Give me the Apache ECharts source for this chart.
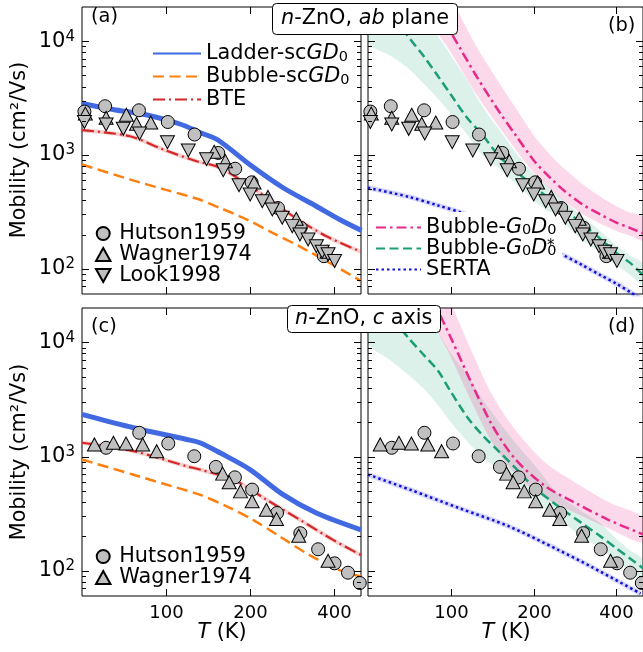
<!DOCTYPE html>
<html>
<head>
<meta charset="UTF-8">
<title>n-ZnO mobility</title>
<script src="https://cdn.jsdelivr.net/npm/echarts@6/dist/echarts.min.js"></script>
<style>
  html, body { margin: 0; padding: 0; background: #fff; }
  #chart { width: 643px; height: 652px; }
</style>
</head>
<body>
<div id="chart"></div>
<script>
// axis ranges and ticks
const xMin = 50, xMax = 500, yMin = 60, yMax = 20000;
const xTicks = [100, 200, 400];
const yMajor = [100, 1000, 10000];
const yMinor = [70, 80, 90, 200, 300, 400, 500, 600, 700, 800, 900,
                2000, 3000, 4000, 5000, 6000, 7000, 8000, 9000];

// experiment, ab plane
const hutsonAbT  = [51, 60.5, 80, 101.5, 126.6, 153.9, 177, 202.7, 252, 304, 368];
const hutsonAbMu = [2410, 2685, 2472, 1950, 1514, 1043, 757, 575, 342, 229, 129];
const wagnerAbT  = [51.4, 61, 72.1, 78.4, 88.2, 148.8, 163.3, 206.8, 232, 293, 378];
const wagnerAbMu = [2312, 2122, 2260, 1884, 1930, 1069, 883, 573, 428, 275, 141];
const lookAbT  = [51, 61, 70.3, 80.4, 101.2, 120.2, 139.8, 160.4, 182.7, 200.3, 221.4, 240.5, 261, 283.5, 302, 323, 346, 363, 381, 402];
const lookAbMu = [1950, 1854, 1699, 1545, 1294, 1096, 918, 734, 542, 450, 393, 332, 281, 237, 200, 181, 158, 141, 134, 117];

// experiment, c axis
const hutsonCT  = [61, 80.2, 101.9, 126.3, 150.9, 176.6, 203.6, 250, 303, 351, 402, 449, 495];
const hutsonCMu = [1193, 1614, 1300, 1006, 811, 657, 513, 320, 213, 154, 116, 96, 78];
const wagnerCT  = [55.4, 64.8, 71.9, 82.5, 92.6, 159.6, 168.5, 185, 203.6, 229, 249, 299, 381];
const wagnerCMu = [1276, 1318, 1300, 1276, 1114, 708, 594, 495, 405, 342, 283, 202, 122];

// theory, ab plane (a)
const ladderAbT  = [50, 64.6, 85.5, 112.2, 132.3, 153.5, 200, 262, 347, 419, 502];
const ladderAbMu = [2835, 2512, 2246, 1873, 1577, 1355, 820, 518, 353, 271, 217];
const bubScAbT  = [50, 75, 100, 130, 155, 195, 240, 300, 400, 500];
const bubScAbMu = [826, 605, 494, 410, 345, 271, 208, 158, 107, 78];
const bteAbT  = [50, 74.3, 97.8, 128.8, 156, 217, 285, 376, 500];
const bteAbMu = [1652, 1462, 1117, 882, 772, 466, 290, 193, 141];

// theory, c axis (c)
const ladderCT  = [50, 76.4, 118.6, 132.3, 156, 200, 263, 346, 500];
const ladderCMu = [2341, 1788, 1411, 1320, 1078, 769, 463, 320, 228];
const bubScCT  = [50, 76, 100, 132, 165, 205, 256, 327, 419, 500];
const bubScCMu = [941, 695, 569, 463, 366, 279, 199, 137, 101, 88.5];
const bteCT  = [50, 76.4, 118.6, 132.3, 174, 229, 302, 397, 500];
const bteCMu = [1320, 1114, 822, 769, 628, 419, 279, 186, 137];

// theory, ab plane (b)
const g0d0AbT  = [85, 100, 124, 150, 172, 200, 230, 260, 300, 350, 400, 450, 500];
const g0d0AbMu = [23000, 12000, 4925, 2400, 1500, 900, 630, 480, 370, 300, 255, 228, 205];
const g0d0AbLo = [15500, 8000, 3400, 1750, 1120, 700, 500, 390, 305, 250, 215, 195, 178];
const g0d0AbHi = [46000, 24000, 9000, 4300, 2600, 1500, 1000, 750, 560, 430, 355, 310, 285];
const starT = [50, 60, 70, 80, 90, 100, 115, 130, 150, 175, 200, 250, 300, 350, 400, 450, 500];
const starAbMu = [30000, 18500, 11000, 7300, 4900, 3400, 2100, 1514, 975, 700, 530, 350, 250, 183, 138, 112, 88];
const starAbLo = [9800, 7500, 5800, 4200, 3100, 2300, 1500, 1000, 760, 540, 400, 265, 180, 138, 108, 88, 72];
const starAbHi = [40000, 32000, 23000, 15500, 11000, 7500, 4500, 2700, 1675, 1000, 687, 425, 290, 215, 160, 130, 110];
const sertaAbT  = [50, 70, 90, 110, 150, 200, 253, 300, 350, 400, 453, 500];
const sertaAbMu = [515, 430, 360, 310, 232, 175, 134, 108, 88, 74, 61.5, 53];

// theory, c axis (d)
const g0d0CT  = [85, 100, 120, 142, 172, 221, 284, 374, 500];
const g0d0CMu = [25000, 11000, 4200, 1849, 942, 548, 392, 279, 208];
const g0d0CLo = [17000, 7500, 2900, 1300, 700, 430, 320, 235, 178];
const g0d0CHi = [50000, 22000, 8000, 3400, 1700, 880, 590, 400, 290];
const starCMu = [30000, 17500, 11000, 7700, 5600, 3700, 2200, 1550, 1100, 760, 540, 356, 260, 200, 157, 127, 105];
const starCLo = [10000, 7000, 5200, 3900, 2800, 2000, 1350, 1000, 760, 570, 420, 275, 200, 155, 122, 98, 80];
const starCHi = [40000, 32000, 23000, 16500, 12000, 8000, 5200, 3200, 2000, 1250, 860, 450, 330, 260, 190, 150, 125];
const sertaCT  = [50, 71, 107, 163, 246, 325, 490];
const sertaCMu = [695, 513, 354, 244, 152, 108, 63];

const FONT = 'DejaVu Sans';
const markColor = '#c0c0c0';
const triUp = 'path://M5,0L10,9L0,9Z';
const triDown = 'path://M0,0L10,0L5,9Z';

function pair(T, mu) { return T.map((t, i) => [t, mu[i]]); }

function lineS(name, g, T, mu, color, width, dash, z) {
    return {
        name: name, type: 'line', xAxisIndex: g, yAxisIndex: g,
        data: pair(T, mu), symbol: 'none', showSymbol: false, smooth: 0.3,
        lineStyle: { color: color, width: width, type: dash || 'solid' },
        itemStyle: { color: color }, z: z || 3, silent: true
    };
}

function markS(name, g, T, mu, symbol, size) {
    return {
        name: name, type: 'scatter', xAxisIndex: g, yAxisIndex: g,
        data: pair(T, mu), symbol: symbol, symbolSize: size,
        itemStyle: { color: markColor, borderColor: '#000', borderWidth: 1, opacity: 1 },
        z: 5, silent: true
    };
}

// shaded band between lo and hi, mapped through the axes
function bandS(g, T, lo, hi, color) {
    return {
        type: 'custom', xAxisIndex: g, yAxisIndex: g, silent: true, clip: true, z: 1,
        data: [[T[0], lo[0]]],
        renderItem: function (params, api) {
            const pts = [];
            for (let i = 0; i < T.length; i++) pts.push(api.coord([T[i], hi[i]]));
            for (let i = T.length - 1; i >= 0; i--) pts.push(api.coord([T[i], lo[i]]));
            return { type: 'polygon', shape: { points: pts, smooth: 0.3 }, style: { fill: color } };
        }
    };
}

// ticks drawn inward on all four sides, plus bottom tick labels
function frameS(g, xLabels) {
    return {
        type: 'custom', xAxisIndex: g, yAxisIndex: g, silent: true, clip: false, z: 10,
        data: [[100, 1000]],
        renderItem: function (params, api) {
            const ch = [];
            const yb = api.coord([xMin, yMin])[1], yt = api.coord([xMin, yMax])[1];
            const xl = api.coord([xMin, yMin])[0], xr = api.coord([xMax, yMin])[0];
            const seg = (x1, y1, x2, y2) => ({
                type: 'line', shape: { x1: x1, y1: y1, x2: x2, y2: y2 },
                style: { stroke: '#000', lineWidth: 1 }
            });
            xTicks.forEach(t => {
                const x = Math.round(api.coord([t, yMin])[0]) + 0.5;
                ch.push(seg(x, yb, x, yb - 7), seg(x, yt, x, yt + 7));
                if (xLabels) {
                    ch.push({
                        type: 'text',
                        style: { text: String(t), x: x, y: yb + 17, align: 'center', verticalAlign: 'middle',
                                 font: '18px "' + FONT + '"', fill: '#000' }
                    });
                }
            });
            yMajor.forEach(v => {
                const y = Math.round(api.coord([xMin, v])[1]) + 0.5;
                ch.push(seg(xl, y, xl + 7, y), seg(xr, y, xr - 7, y));
            });
            yMinor.forEach(v => {
                const y = Math.round(api.coord([xMin, v])[1]) + 0.5;
                ch.push(seg(xl, y, xl + 4, y), seg(xr, y, xr - 4, y));
            });
            return { type: 'group', children: ch };
        }
    };
}

const FS = 20.8;
const legendNames = {
    'Ladder-scGD0': 'Ladder-sc{i|GD}{sub|0}',
    'Bubble-scGD0': 'Bubble-sc{i|GD}{sub|0}',
    'BTE': 'BTE',
    'Bubble-G0D0': 'Bubble-{i|G}{sub|0}{i|D}{sub|0}',
    'Bubble-G0D0*': 'Bubble-{i|G}{sub|0}{i|D}{sub|0}',
    'SERTA': 'SERTA',
    'Hutson1959': 'Hutson1959',
    'Wagner1974': 'Wagner1974',
    'Look1998': 'Look1998'
};
function legendBox(names, left, top, w, h, lh, gap, extra) {
    return Object.assign({
        data: names, orient: 'vertical', left: left, top: top,
        itemWidth: w, itemHeight: h, itemGap: gap, selectedMode: false, padding: 0,
        formatter: n => legendNames[n] || n,
        textStyle: {
            fontSize: FS, fontFamily: FONT, color: '#000', lineHeight: lh,
            rich: {
                i: { fontStyle: 'italic', fontSize: FS, fontFamily: FONT, color: '#000', lineHeight: lh },
                sub: { fontSize: 14.5, fontFamily: FONT, color: '#000', lineHeight: 6, verticalAlign: 'bottom' }
            }
        }
    }, extra || {});
}
const lineLegend = { itemStyle: { opacity: 0 } };

const grids = [
    { left: 82, top: 7, width: 279, height: 287 },
    { left: 368, top: 7, width: 277, height: 287 },
    { left: 82, top: 308, width: 279, height: 288 },
    { left: 368, top: 308, width: 277, height: 288 }
].map(g => Object.assign(g, { show: true, borderColor: '#000', borderWidth: 1, backgroundColor: 'transparent' }));

const xAxes = grids.map((g, i) => ({
    type: 'log', gridIndex: i, min: xMin, max: xMax, logBase: 10,
    axisLine: { show: false }, axisTick: { show: false }, axisLabel: { show: false }, splitLine: { show: false }
}));
const yAxes = grids.map((g, i) => ({
    type: 'log', gridIndex: i, min: yMin, max: yMax, logBase: 10,
    axisLine: { show: false }, axisTick: { show: false }, splitLine: { show: false },
    axisLabel: {
        show: i === 0 || i === 2, margin: 7,
        formatter: v => {
            const e = Math.round(Math.log10(v));
            if (Math.abs(Math.log10(v) - e) > 1e-6) return '';
            return '{b|10}{p|' + e + '}';
        },
        rich: {
            b: { fontSize: 21, fontFamily: FONT, color: '#000', lineHeight: 24 },
            p: { fontSize: 15, fontFamily: FONT, color: '#000', lineHeight: 12, verticalAlign: 'top' }
        }
    }
}));

const blue = '#4169e1', orange = '#ff7f0e', red = '#d62728';
const pink = '#e7298a', green = '#1b9e77', dblue = '#1111cc';
const dashOrange = [11, 5.5], dashDot = [12, 4, 2, 4];
const dashPink = [10, 4, 2.5, 4], dashGreen = [9, 4.5], dots = [2.5, 3];

const series = [
    // (a)
    lineS('', 0, bteAbT, bteAbMu, 'rgba(214,39,40,0.22)', 4, 'solid', 2),
    lineS('Bubble-scGD0', 0, bubScAbT, bubScAbMu, orange, 2.5, dashOrange),
    lineS('BTE', 0, bteAbT, bteAbMu, red, 2.2, dashDot),
    lineS('Ladder-scGD0', 0, ladderAbT, ladderAbMu, blue, 5),
    markS('Hutson1959', 0, hutsonAbT, hutsonAbMu, 'circle', 13),
    markS('Wagner1974', 0, wagnerAbT, wagnerAbMu, triUp, [14, 13]),
    markS('Look1998', 0, lookAbT, lookAbMu, triDown, [14, 13]),
    // (b)
    bandS(1, starT, starAbLo, starAbHi, 'rgba(27,158,119,0.15)'),
    bandS(1, g0d0AbT, g0d0AbLo, g0d0AbHi, 'rgba(231,41,138,0.18)'),
    lineS('', 1, sertaAbT, sertaAbMu, 'rgba(70,70,255,0.22)', 5, 'solid', 2),
    lineS('SERTA', 1, sertaAbT, sertaAbMu, dblue, 2.5, dots),
    lineS('Bubble-G0D0*', 1, starT, starAbMu, green, 2.5, dashGreen),
    lineS('Bubble-G0D0', 1, g0d0AbT, g0d0AbMu, pink, 2.5, dashPink),
    markS('Hutson1959', 1, hutsonAbT, hutsonAbMu, 'circle', 13),
    markS('Wagner1974', 1, wagnerAbT, wagnerAbMu, triUp, [14, 13]),
    markS('Look1998', 1, lookAbT, lookAbMu, triDown, [14, 13]),
    // (c)
    lineS('', 2, bteCT, bteCMu, 'rgba(214,39,40,0.22)', 4, 'solid', 2),
    lineS('Bubble-scGD0', 2, bubScCT, bubScCMu, orange, 2.5, dashOrange),
    lineS('BTE', 2, bteCT, bteCMu, red, 2.2, dashDot),
    lineS('Ladder-scGD0', 2, ladderCT, ladderCMu, blue, 5),
    markS('Hutson1959', 2, hutsonCT, hutsonCMu, 'circle', 13),
    markS('Wagner1974', 2, wagnerCT, wagnerCMu, triUp, [14, 13]),
    // (d)
    bandS(3, starT, starCLo, starCHi, 'rgba(27,158,119,0.15)'),
    bandS(3, g0d0CT, g0d0CLo, g0d0CHi, 'rgba(231,41,138,0.18)'),
    lineS('', 3, sertaCT, sertaCMu, 'rgba(70,70,255,0.22)', 5, 'solid', 2),
    lineS('SERTA', 3, sertaCT, sertaCMu, dblue, 2.5, dots),
    lineS('Bubble-G0D0*', 3, starT, starCMu, green, 2.5, dashGreen),
    lineS('Bubble-G0D0', 3, g0d0CT, g0d0CMu, pink, 2.5, dashPink),
    markS('Hutson1959', 3, hutsonCT, hutsonCMu, 'circle', 13),
    markS('Wagner1974', 3, wagnerCT, wagnerCMu, triUp, [14, 13]),
    // frames and ticks
    frameS(0, false), frameS(1, false), frameS(2, true), frameS(3, true)
];

const titleStyle = {
    fontSize: FS, fontWeight: 'normal', fontFamily: FONT, color: '#000', lineHeight: 24,
    rich: { i: { fontStyle: 'italic', fontSize: FS, fontFamily: FONT, color: '#000', lineHeight: 24 } }
};
const titles = [
    { text: '{i|n}-ZnO, {i|ab} plane', left: 272, top: 3, padding: [4, 9, 4, 9] },
    { text: '{i|n}-ZnO, {i|c} axis', left: 287, top: 305, padding: [2, 8, 2, 8] }
].map(t => Object.assign(t, {
    borderColor: '#000', borderWidth: 1, borderRadius: 4, backgroundColor: '#fff',
    textStyle: titleStyle, z: 12
}));

function label(text, x, y, size) {
    return { type: 'text', x: x, y: y, z: 20,
             style: { text: text, font: (size || 19.4) + 'px "' + FONT + '"', fill: '#000', align: 'left', verticalAlign: 'middle' } };
}
function yName(y) {
    return { type: 'text', x: 20, y: y, rotation: Math.PI / 2, z: 20,
             style: { text: 'Mobility (cm²/Vs)', font: FS + 'px "' + FONT + '"', fill: '#000', align: 'center', verticalAlign: 'middle' } };
}
function xName(x) {
    return { type: 'text', x: x, y: 633, z: 20,
             style: { text: '{i|T} (K)', font: FS + 'px "' + FONT + '"', fill: '#000', align: 'center', verticalAlign: 'middle',
                      rich: { i: { fontStyle: 'italic', fontSize: FS, fontFamily: FONT } } } };
}

const chart = echarts.init(document.getElementById('chart'), null, { renderer: 'canvas' });
chart.setOption({
    animation: false,
    backgroundColor: '#fff',
    title: titles,
    grid: grids,
    xAxis: xAxes,
    yAxis: yAxes,
    legend: [
        legendBox(['Ladder-scGD0', 'Bubble-scGD0', 'BTE'], 152, 42, 48, 14, 23, 0, lineLegend),
        legendBox(['Hutson1959', 'Wagner1974', 'Look1998'], 95, 223, 22, 13, 19.5, 0),
        legendBox(['Bubble-G0D0', 'Bubble-G0D0*', 'SERTA'], 368, 212, 45, 14, 21, 0,
                  Object.assign({ padding: [5, 6, 6, 7], backgroundColor: '#fff' }, lineLegend)),
        legendBox(['Hutson1959', 'Wagner1974'], 95, 546, 22, 13, 20, 0)
    ],
    graphic: [
        label('(a)', 91, 17), label('(b)', 608, 26), label('(c)', 91, 327), label('(d)', 608, 327),
        label('*', 547, 246, 15),
        yName(150), yName(452), xName(222), xName(506)
    ],
    series: series
});
window.addEventListener('resize', chart.resize);
</script>
</body>
</html>
